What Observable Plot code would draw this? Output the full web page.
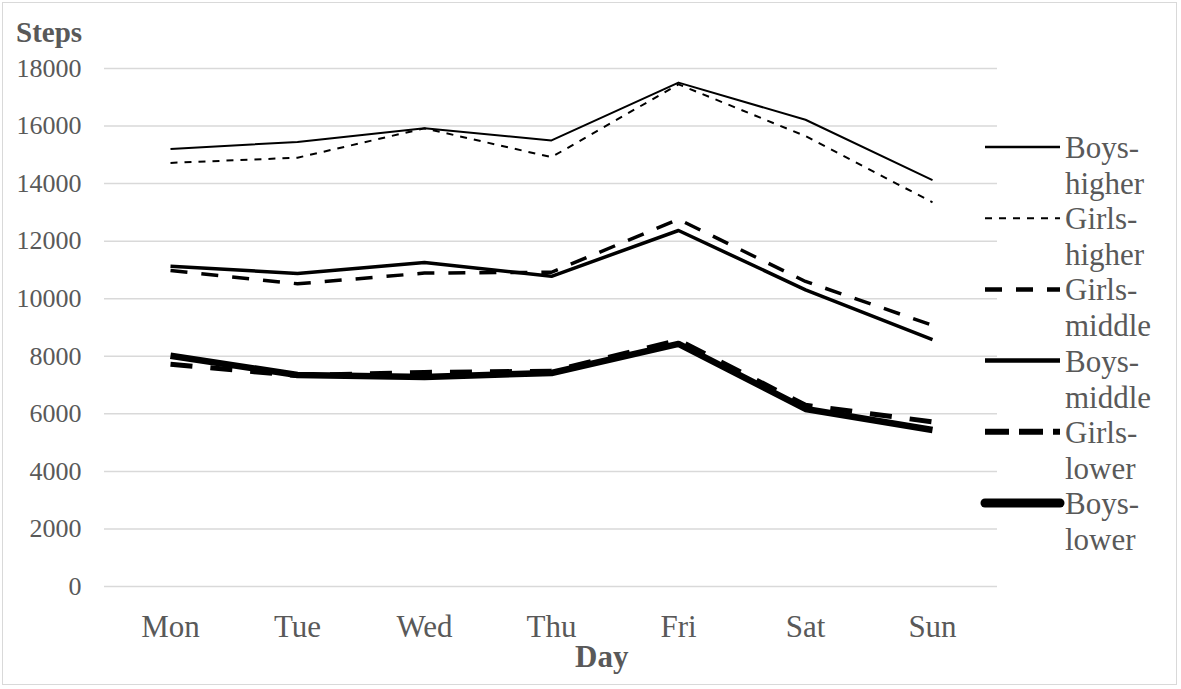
<!DOCTYPE html>
<html>
<head>
<meta charset="utf-8">
<script src="https://cdn.jsdelivr.net/npm/d3@7"></script>
<script src="https://cdn.jsdelivr.net/npm/@observablehq/plot@0.6"></script>
<style>
  html, body { margin: 0; padding: 0; background: #fff; }
  #wrap { position: relative; width: 1181px; height: 689px; overflow: hidden; font-family: "Liberation Serif", "Times New Roman", serif; }
  #frame { position: absolute; left: 2px; top: 2px; width: 1175px; height: 683px; border: 1px solid #d9d9d9; box-sizing: border-box; pointer-events: none; }
  #chart { position: absolute; left: 0; top: 0; }
  .title { position: absolute; font-weight: bold; color: #595959; line-height: 1; white-space: nowrap; }
  #legend { position: absolute; left: 0; top: 0; }
</style>
</head>
<body>
<div id="wrap">
  <div id="chart"></div>
  <div class="title" id="ylabel" style="left:16px; top:18px; font-size:29px;">Steps</div>
  <div class="title" id="xlabel" style="left:575px; top:641px; font-size:31px;">Day</div>
  <svg id="legend" width="1181" height="689"></svg>
  <div id="frame"></div>
</div>
<script>
// ---- data ----
const days = ["Mon", "Tue", "Wed", "Thu", "Fri", "Sat", "Sun"];
const seriesNames = ["Boys-higher", "Girls-higher", "Girls-middle", "Boys-middle", "Girls-lower", "Boys-lower"];
const boysHigher  = [15200, 15450, 15920, 15500, 17510, 16220, 14120];
const girlsHigher = [14720, 14900, 15920, 14920, 17450, 15650, 13350];
const girlsMiddle = [10980, 10520, 10890, 10920, 12760, 10600, 9080];
const boysMiddle  = [11130, 10880, 11260, 10780, 12370, 10310, 8580];
const girlsLower  = [7720, 7330, 7440, 7480, 8560, 6300, 5720];
const boysLower   = [8020, 7350, 7280, 7420, 8430, 6170, 5440];
const yTicks = [0, 2000, 4000, 6000, 8000, 10000, 12000, 14000, 16000, 18000];

const seriesValues = [boysHigher, girlsHigher, girlsMiddle, boysMiddle, girlsLower, boysLower];

// ---- styles (per series, in legend order) ----
const lineStyles = [
  {w: 2,   dash: null},
  {w: 2,   dash: "7,7"},
  {w: 3.5, dash: "17,14"},
  {w: 3.5, dash: null},
  {w: 5,   dash: "22,18"},
  {w: 6.5, dash: null}
];
const legendStyles = [
  {w: 2.5, dash: null},
  {w: 2,   dash: "7,7"},
  {w: 4.5, dash: "17,14"},
  {w: 4.5, dash: null},
  {w: 6,   dash: "24,10"},
  {w: 9,   dash: null}
];

const rows = seriesNames.map((name, i) => days.map((d, j) => ({series: name, day: d, steps: seriesValues[i][j]})));

const lineMarks = rows.map((data, i) => Plot.line(data, {
  x: "day", y: "steps",
  stroke: "#000",
  strokeWidth: lineStyles[i].w,
  strokeDasharray: lineStyles[i].dash || undefined,
  strokeLinejoin: "round",
  strokeLinecap: "butt"
}));

const chart = Plot.plot({
  width: 1181,
  height: 689,
  marginLeft: 104,
  marginRight: 184,
  marginTop: 68,
  marginBottom: 103,
  style: { fontFamily: "'Liberation Serif', 'Times New Roman', serif", color: "#595959", background: "transparent" },
  x: { type: "point", domain: days, padding: 0.5, align: 0.5 },
  y: { domain: [0, 18000] },
  marks: [
    Plot.gridY(yTicks, { stroke: "#d9d9d9", strokeOpacity: 1, strokeWidth: 1.5 }),
    Plot.axisY(yTicks, { tickSize: 0, tickPadding: 23, fontSize: 26, tickFormat: d => String(d), label: null, fill: "#595959" }),
    Plot.axisX({ tickSize: 0, tickPadding: 28, fontSize: 31, label: null, fill: "#595959" }),
    ...lineMarks
  ]
});
document.getElementById("chart").appendChild(chart);

// ---- legend ----
const leg = d3.select("#legend");
const lx0 = 985, lx1 = 1060, tx = 1065, y0 = 147, step = 71.2;
seriesNames.forEach((name, i) => {
  const y = y0 + i * step;
  const st = legendStyles[i];
  const ln = leg.append("line")
    .attr("x1", lx0).attr("x2", lx1).attr("y1", y).attr("y2", y)
    .attr("stroke", "#000").attr("stroke-width", st.w)
    .attr("stroke-linecap", i === 5 ? "round" : "butt");
  if (st.dash) ln.attr("stroke-dasharray", st.dash);
  const parts = name.split("-");
  const t = leg.append("text")
    .attr("x", tx).attr("y", y + 11)
    .attr("font-family", "'Liberation Serif', 'Times New Roman', serif")
    .attr("font-size", 31)
    .attr("fill", "#595959");
  t.append("tspan").attr("x", tx).text(parts[0] + "-");
  t.append("tspan").attr("x", tx).attr("dy", 36).text(parts[1]);
});
</script>
</body>
</html>
